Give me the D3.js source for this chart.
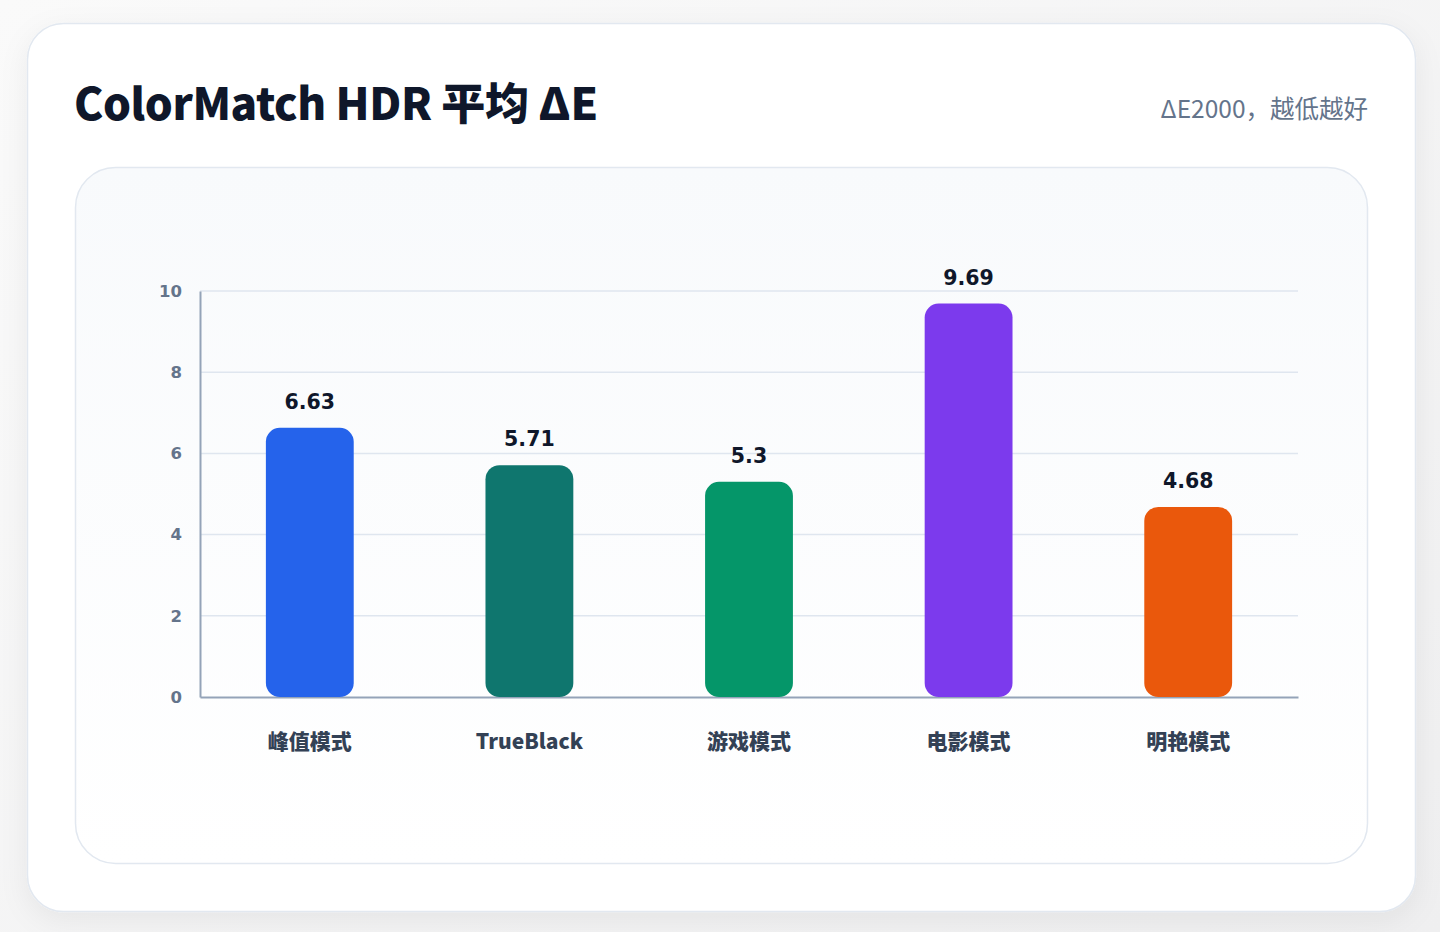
<!DOCTYPE html>
<html>
<head>
<meta charset="utf-8">
<script src="https://cdn.jsdelivr.net/npm/d3@7"></script>
<style>
  html, body { margin: 0; padding: 0; background: #f4f4f5; }
  svg { display: block; }
</style>
</head>
<body>
<div id="chart"></div>
<script>
// data
const categories = ["峰值模式", "TrueBlack", "游戏模式", "电影模式", "明艳模式"];
const values = [6.63, 5.71, 5.3, 9.69, 4.68];
const barColors = ["#2563eb", "#0f766e", "#059669", "#7c3aed", "#ea580c"];
const yTicks = [0, 2, 4, 6, 8, 10];
const titleText = "ColorMatch HDR 平均 ΔE";
const subtitleText = "ΔE2000，越低越好";

const W = 1440, H = 932;
const cjk = "'Noto Sans CJK SC', 'Noto Sans', sans-serif";
const num = "'DejaVu Sans', 'Noto Sans', sans-serif";

const svg = d3.select("#chart").append("svg")
    .attr("width", W)
    .attr("height", H);

const defs = svg.append("defs");

// page background
const bgGrad = defs.append("linearGradient").attr("id", "bgGrad")
    .attr("x1", "0%").attr("y1", "0%").attr("x2", "100%").attr("y2", "100%");
bgGrad.append("stop").attr("offset", "0%").style("stop-color", "#fafafa");
bgGrad.append("stop").attr("offset", "100%").style("stop-color", "#efeff0");
svg.append("rect").attr("width", W).attr("height", H).attr("fill", "url(#bgGrad)");

// card shadow
const shadow = defs.append("filter").attr("id", "cardShadow")
    .attr("x", "-10%").attr("y", "-10%").attr("width", "120%").attr("height", "120%");
shadow.append("feDropShadow")
    .attr("dx", 0).attr("dy", 8).attr("stdDeviation", 14)
    .attr("flood-color", "#0f172a").attr("flood-opacity", 0.06);

// outer card
svg.append("rect")
    .attr("x", 27.5).attr("y", 23.5)
    .attr("width", 1388).attr("height", 888)
    .attr("rx", 36)
    .attr("fill", "#ffffff")
    .attr("stroke", "#e2e8f0")
    .attr("stroke-width", 1.5)
    .attr("filter", "url(#cardShadow)");

// title & subtitle
svg.append("text")
    .attr("x", 74).attr("y", 120)
    .attr("font-family", cjk)
    .attr("font-weight", 900)
    .attr("font-size", 44)
    .attr("letter-spacing", -0.4)
    .attr("fill", "#0f172a")
    .text(titleText);

svg.append("text")
    .attr("x", 1368).attr("y", 118)
    .attr("text-anchor", "end")
    .attr("font-family", cjk)
    .attr("font-size", 24.5)
    .attr("fill", "#64748b")
    .text(subtitleText);

// inner panel
const panelGrad = defs.append("linearGradient").attr("id", "panelGrad")
    .attr("x1", "0%").attr("y1", "0%").attr("x2", "0%").attr("y2", "100%");
panelGrad.append("stop").attr("offset", "0%").style("stop-color", "#f8fafc");
panelGrad.append("stop").attr("offset", "100%").style("stop-color", "#ffffff");

svg.append("rect")
    .attr("x", 75.5).attr("y", 167.5)
    .attr("width", 1292).attr("height", 696)
    .attr("rx", 40)
    .attr("fill", "url(#panelGrad)")
    .attr("stroke", "#e2e8f0")
    .attr("stroke-width", 1.5);

// chart area
const margin = { left: 200, right: 142, top: 291, bottom: 235 };
const x = d3.scaleBand()
    .domain(categories)
    .range([margin.left, W - margin.right])
    .paddingInner(0.6)
    .paddingOuter(0.3);
const y = d3.scaleLinear()
    .domain([0, 10])
    .range([H - margin.bottom, margin.top]);

const g = svg.append("g");

// gridlines
g.selectAll(".grid")
    .data(yTicks.filter(d => d > 0))
    .enter().append("line")
    .attr("x1", margin.left).attr("x2", W - margin.right)
    .attr("y1", d => y(d)).attr("y2", d => y(d))
    .attr("stroke", "#dfe6ef")
    .attr("stroke-width", 1.5);

// y axis
const yAxis = g.append("g")
    .attr("transform", "translate(" + margin.left + ",0)")
    .call(d3.axisLeft(y).tickValues(yTicks).tickSize(0).tickPadding(18));
yAxis.select(".domain").attr("stroke", "#94a3b8").attr("stroke-width", 2);
yAxis.selectAll("text")
    .attr("font-family", num)
    .attr("font-weight", "bold")
    .attr("font-size", 16.5)
    .attr("fill", "#64748b");

// x axis
const xAxis = g.append("g")
    .attr("transform", "translate(0," + y(0) + ")")
    .call(d3.axisBottom(x).tickSize(0).tickPadding(37));
xAxis.select(".domain").attr("stroke", "#94a3b8").attr("stroke-width", 2);
xAxis.selectAll("text")
    .attr("font-family", cjk)
    .attr("font-weight", 900)
    .attr("font-size", 21)
    .attr("fill", "#334155");

// bars
const data = categories.map((c, i) => ({ cat: c, value: values[i], color: barColors[i] }));

g.selectAll(".bar")
    .data(data)
    .enter().append("rect")
    .attr("class", "bar")
    .attr("x", d => x(d.cat))
    .attr("y", d => y(d.value))
    .attr("width", x.bandwidth())
    .attr("height", d => y(0) - y(d.value))
    .attr("rx", 14)
    .attr("fill", d => d.color);

// value labels
g.selectAll(".valueText")
    .data(data)
    .enter().append("text")
    .attr("class", "valueText")
    .attr("x", d => x(d.cat) + x.bandwidth() / 2)
    .attr("y", d => y(d.value) - 19)
    .attr("text-anchor", "middle")
    .attr("font-family", num)
    .attr("font-weight", "bold")
    .attr("font-size", 20.5)
    .attr("fill", "#0f172a")
    .text(d => d.value);
</script>
</body>
</html>
